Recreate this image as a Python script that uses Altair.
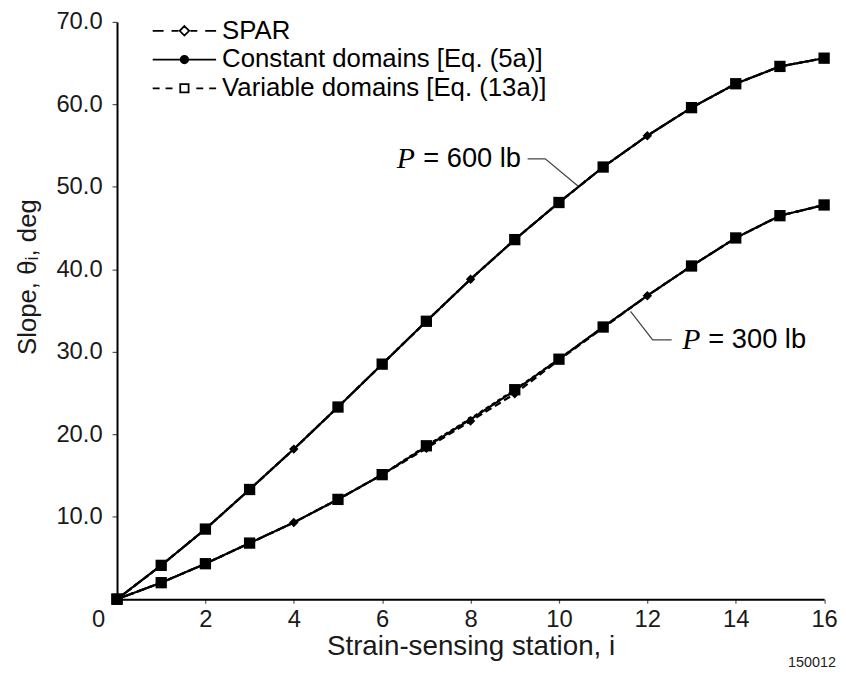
import altair as alt
import pandas as pd

# ---------------- data ----------------
stations = list(range(17))
series_names = ["SPAR", "Constant domains [Eq. (5a)]", "Variable domains [Eq. (13a)]"]

spar_600 = [0.0, 4.1, 8.5, 13.3, 18.2, 23.3, 28.5, 33.7, 38.8, 43.6, 48.1, 52.4, 56.2, 59.6, 62.5, 64.6, 65.6]
const_600 = [0.0, 4.1, 8.5, 13.3, 18.2, 23.3, 28.5, 33.7, 38.8, 43.6, 48.1, 52.4, 56.2, 59.6, 62.5, 64.6, 65.6]
var_600 = [0.0, 4.1, 8.5, 13.3, 18.2, 23.3, 28.5, 33.7, 38.8, 43.6, 48.1, 52.4, 56.2, 59.6, 62.5, 64.6, 65.6]

spar_300 = [0.0, 2.0, 4.3, 6.8, 9.3, 12.1, 15.1, 18.3, 21.6, 24.9, 29.0, 32.9, 36.8, 40.4, 43.8, 46.5, 47.8]
const_300 = [0.0, 2.0, 4.3, 6.8, 9.3, 12.1, 15.1, 18.5, 21.8, 25.3, 29.1, 33.0, 36.8, 40.4, 43.8, 46.5, 47.8]
var_300 = [0.0, 2.0, 4.3, 6.8, 9.3, 12.1, 15.1, 18.6, 21.9, 25.4, 29.1, 33.0, 36.8, 40.4, 43.8, 46.5, 47.8]

# stations where the variable-domain square marker is drawn (1) or not (0)
var_marker_shown = [1, 1, 1, 1, 0, 1, 1, 1, 0, 1, 1, 1, 0, 1, 1, 1, 1]

x_ticks = [0, 2, 4, 6, 8, 10, 12, 14, 16]
y_ticks = [0, 10, 20, 30, 40, 50, 60, 70]

# annotation leader lines (data units) and labels
lead_id = ["600", "600", "600", "300", "300", "300"]
lead_x = [10.43, 9.69, 9.29, 11.62, 12.12, 12.55]
lead_y = [50.1, 53.4, 53.4, 34.9, 31.45, 31.45]
ann_p_x = [6.33, 12.79]
ann_eq_x = [6.93, 13.38]
ann_y = [53.4, 31.45]
ann_eq_text = ["= 600 lb", "= 300 lb"]

# ---------------- tables ----------------
rows = []
for name, v6, v3 in zip(series_names, [spar_600, const_600, var_600], [spar_300, const_300, var_300]):
    for load, vals in (("600", v6), ("300", v3)):
        for s, v, m in zip(stations, vals, var_marker_shown):
            rows.append({"series": name, "load": load, "x": s, "y": v, "m": m})
df = pd.DataFrame(rows)

lead_df = pd.DataFrame({"id": lead_id, "x": lead_x, "y": lead_y, "o": list(range(len(lead_x)))})
ann_df = pd.DataFrame({"px": ann_p_x, "ex": ann_eq_x, "y": ann_y, "t": ann_eq_text, "p": ["P", "P"]})
leg_df = pd.DataFrame({"label": series_names, "x": [0.0] * 3, "y": [0.0] * 3})

FONT = "Liberation Sans"
xscale = alt.Scale(domain=[0, 16], nice=False, zero=False)
yscale = alt.Scale(domain=[0, 70], nice=False, zero=False)

xaxis = alt.Axis(
    values=x_ticks, title="Strain-sensing station, i", grid=False, labelFlush=False,
    labelFontSize=24, titleFontSize=28, tickSize=4, labelPadding=5,
    labelOffset={"condition": {"test": "datum.value === 0", "value": -19}, "value": 0},
    titlePadding=1,
)
yaxis = alt.Axis(
    values=y_ticks, title="Slope, θᵢ, deg", grid=False, labelFlush=False,
    labelExpr="datum.value === 0 ? '' : format(datum.value, '.1f')",
    labelFontSize=24, titleFontSize=26, tickSize=5, labelPadding=10,
    titleAngle=270, titleAlign="center", titleBaseline="middle",
    titleX=-90, titleY=257,
)

base = alt.Chart(df)
X = alt.X("x:Q", scale=xscale, axis=xaxis)
Y = alt.Y("y:Q", scale=yscale, axis=yaxis)

def line_layer(name, dash, with_axes=False):
    enc = dict(x=X, y=Y) if with_axes else dict(x="x:Q", y="y:Q")
    return base.transform_filter(alt.datum.series == name).mark_line(
        color="black", strokeWidth=2.2, strokeDash=dash
    ).encode(detail="load:N", order="x:Q", **enc)

l_const = line_layer(series_names[1], [1, 0], with_axes=True)
l_spar = line_layer(series_names[0], [7, 4])
l_var = line_layer(series_names[2], [4, 3])

sq = base.transform_filter((alt.datum.series == series_names[2]) & (alt.datum.m == 1)).mark_point(
    shape="square", size=130, filled=True, color="black", opacity=1
).encode(x="x:Q", y="y:Q")
dm = base.transform_filter(alt.datum.series == series_names[0]).mark_point(
    shape="diamond", size=90, filled=True, color="black", opacity=1
).encode(x="x:Q", y="y:Q")
ci = base.transform_filter(alt.datum.series == series_names[1]).mark_point(
    shape="circle", size=36, filled=True, color="black", opacity=1
).encode(x="x:Q", y="y:Q")

leader = alt.Chart(lead_df).mark_line(color="#444", strokeWidth=1.3).encode(
    x="x:Q", y="y:Q", detail="id:N", order="o:Q"
)
ptext = alt.Chart(ann_df).mark_text(
    font="Liberation Serif", fontStyle="italic", fontSize=30, align="left", baseline="middle", color="black"
).encode(x="px:Q", y="y:Q", text="p:N")
eqtext = alt.Chart(ann_df).mark_text(
    font=FONT, fontSize=27.5, align="left", baseline="middle", color="black"
).encode(x="ex:Q", y="y:Q", text="t:N")

# legend: custom symbols drawn as line + marker
def circ(r):
    return f"M{-r},0A{r},{r} 0 1,0 {r},0A{r},{r} 0 1,0 {-r},0Z"

p_spar = ("M-3.2,0H-2.1M-1.3,0H-0.6M0.6,0H1.3M2.1,0H3.2"
          "M0,-0.48L0.48,0L0,0.48L-0.48,0Z")
p_const = "M-3.2,0H3.2" + circ(0.38) + circ(0.26) + circ(0.14) + circ(0.04)
p_var = "M-3.2,0H-2.5M-1.9,0H-1.2M-0.42,-0.42H0.42V0.42H-0.42ZM1.2,0H1.9M2.5,0H3.2"

legend = alt.Legend(
    title=None, orient="none", legendX=55, legendY=-4, padding=0,
    symbolSize=400, symbolStrokeWidth=1.8, symbolStrokeColor="black", symbolOpacity=1,
    labelFont=FONT, labelFontSize=26, labelColor="black", labelOffset=25,
    rowPadding=3, labelLimit=500,
)
leg_layer = alt.Chart(leg_df).mark_point(filled=False, color="black", strokeWidth=1.8, opacity=1, size=0).encode(
    x="x:Q", y="y:Q",
    shape=alt.Shape("label:N", scale=alt.Scale(domain=series_names, range=[p_spar, p_const, p_var]), legend=legend),
)

chart = alt.layer(l_const, l_spar, l_var, sq, dm, ci, leader, ptext, eqtext, leg_layer).properties(
    width=713.5, height=582.5,
    padding={"left": 110, "top": 11, "right": 14, "bottom": 74},
    autosize=alt.AutoSizeParams(type="none"),
    title=alt.TitleParams("150012", orient="bottom", anchor="end", frame="group", fontSize=14.5, font=FONT,
                          fontWeight="normal", color="#222", dx=12, offset=-5),
    background="white",
).configure_view(stroke=None).configure_axis(
    labelFont=FONT, titleFont=FONT, titleFontWeight="normal", labelColor="#1a1a1a", titleColor="#1a1a1a",
    domainColor="black", domainWidth=2, tickColor="#555", tickWidth=1.2,
)

chart.save("out.html", embed_options={"renderer": "svg", "actions": False})
